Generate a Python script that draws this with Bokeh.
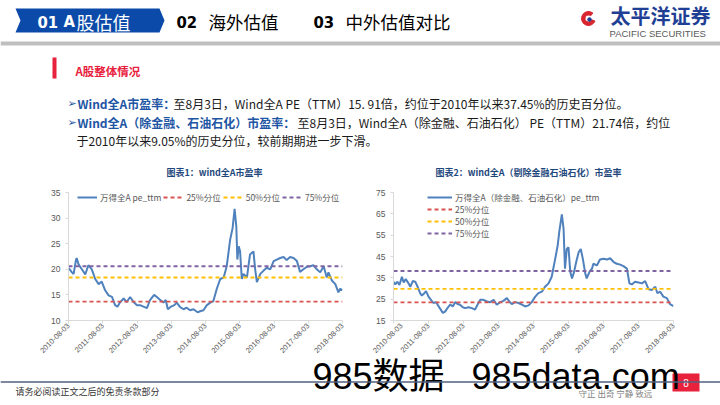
import math
from bokeh.plotting import figure
from bokeh.models import Range1d, FixedTicker, Legend, LegendItem, Span
from bokeh.layouts import column, row
from bokeh.embed import file_html
from bokeh.resources import INLINE
from bokeh.core.properties import value

# ---------------- data ----------------
year_ticks = [0, 1, 2, 3, 4, 5, 6, 7, 8]
tick_labels = ["2010-08-03", "2011-08-03", "2012-08-03", "2013-08-03", "2014-08-03",
               "2015-08-03", "2016-08-03", "2017-08-03", "2018-08-03"]
quantile_labels = ["25%分位", "50%分位", "75%分位"]

# chart 1: Wind全A PE(TTM); x = years since 2010-08-03
pe1_t = [0.00, 0.10, 0.15, 0.22, 0.24, 0.29, 0.39, 0.49, 0.58, 0.68,
         0.78, 0.88, 0.97, 1.07, 1.17, 1.27, 1.36, 1.43, 1.51, 1.61,
         1.70, 1.80, 1.90, 2.00, 2.09, 2.19, 2.29, 2.38, 2.50, 2.58,
         2.68, 2.77, 2.84, 2.90, 2.99, 3.09, 3.16, 3.26, 3.36, 3.45,
         3.55, 3.65, 3.77, 3.84, 3.94, 4.04, 4.14, 4.23, 4.33, 4.43,
         4.53, 4.62, 4.67, 4.72, 4.79, 4.85, 4.90, 4.93, 4.97, 5.01,
         5.06, 5.11, 5.21, 5.30, 5.40, 5.45, 5.50, 5.60, 5.69, 5.79,
         5.89, 5.99, 6.08, 6.18, 6.28, 6.37, 6.47, 6.57, 6.67, 6.76,
         6.86, 6.96, 7.06, 7.15, 7.25, 7.35, 7.45, 7.54, 7.59, 7.69,
         7.79, 7.88, 7.93, 8.00]
pe1_v = [20.3, 19.4, 19.1, 21.9, 22.2, 21.0, 20.0, 19.0, 20.8, 20.0,
         18.1, 17.1, 17.6, 15.9, 14.9, 14.6, 13.0, 12.7, 13.6, 14.3,
         13.6, 14.6, 13.6, 13.0, 13.0, 12.7, 12.4, 14.0, 15.0, 14.6,
         14.0, 13.5, 14.0, 12.2, 12.7, 13.0, 13.5, 12.6, 12.2, 12.5,
         12.0, 12.2, 11.6, 11.8, 12.0, 13.0, 13.5, 13.8, 16.2, 18.1,
         18.4, 20.6, 23.2, 25.8, 28.0, 31.8, 28.3, 21.9, 24.5, 23.5,
         18.1, 19.1, 18.4, 22.9, 23.5, 20.0, 17.5, 19.1, 19.7, 20.3,
         20.0, 21.6, 21.9, 22.2, 22.4, 21.8, 22.4, 22.2, 21.6, 19.5,
         20.0, 20.5, 20.6, 20.8, 20.0, 19.4, 20.6, 18.4, 19.4, 17.8,
         17.1, 15.5, 16.2, 15.91]
pe1_q = [13.7, 18.4, 20.6]

# chart 2: Wind全A(除金融、石油石化) PE(TTM)
pe2_t = [0.00, 0.05, 0.11, 0.17, 0.24, 0.29, 0.35, 0.43, 0.48, 0.55,
         0.62, 0.69, 0.76, 0.81, 0.88, 0.93, 1.00, 1.07, 1.14, 1.22,
         1.29, 1.35, 1.41, 1.48, 1.54, 1.62, 1.70, 1.76, 1.83, 1.90,
         1.98, 2.05, 2.14, 2.24, 2.33, 2.40, 2.48, 2.57, 2.67, 2.76,
         2.86, 2.95, 3.05, 3.14, 3.24, 3.31, 3.38, 3.48, 3.57, 3.67,
         3.76, 3.86, 3.95, 4.05, 4.14, 4.24, 4.33, 4.43, 4.52, 4.62,
         4.69, 4.74, 4.81, 4.86, 4.90, 4.95, 5.00, 5.05, 5.10, 5.16,
         5.22, 5.29, 5.35, 5.41, 5.48, 5.52, 5.60, 5.67, 5.71, 5.81,
         5.90, 6.00, 6.10, 6.19, 6.29, 6.38, 6.48, 6.57, 6.67, 6.74,
         6.81, 6.90, 7.00, 7.10, 7.19, 7.29, 7.38, 7.48, 7.54, 7.62,
         7.71, 7.81, 7.90, 8.00]
pe2_v = [33.2, 31.9, 33.2, 31.6, 35.5, 32.8, 34.4, 32.4, 30.8, 33.5,
         33.2, 30.8, 27.8, 26.7, 27.8, 28.8, 26.2, 24.7, 23.2, 23.6,
         21.6, 20.1, 18.5, 19.3, 20.8, 22.4, 21.6, 23.6, 22.7, 22.4,
         21.2, 20.8, 21.2, 20.8, 20.1, 22.4, 24.7, 24.7, 23.9, 23.6,
         24.7, 22.4, 23.6, 24.2, 25.5, 23.9, 22.7, 23.6, 23.2, 22.4,
         21.6, 22.1, 23.6, 26.2, 27.8, 28.5, 30.8, 32.4, 35.5, 43.9,
         50.1, 57.0, 64.7, 57.8, 39.3, 48.5, 49.3, 37.8, 34.7, 37.8,
         42.4, 47.0, 48.5, 43.9, 37.0, 34.7, 37.8, 39.3, 41.6, 40.8,
         43.6, 43.9, 43.6, 44.2, 42.4, 41.6, 41.2, 40.5, 39.3, 32.4,
         31.9, 33.2, 32.8, 32.4, 33.5, 29.6, 29.3, 30.8, 27.8, 28.5,
         26.2, 25.5, 22.7, 21.74]
pe2_q = [23.5, 29.8, 38.2]

# ---------------- styles ----------------
CJK = "Noto Sans CJK SC"
NARROW = "Liberation Sans Narrow, DejaVu Sans Condensed, Liberation Sans"
BLUE_LINE = "#4f81bd"
Q_COLORS = ["#d9534f", "#ffc000", "#8064a2"]
W = 720
TOP_H = 182
CHART_H = 176
OVERLAP = 18                      # footer panel is pulled up over the charts' bottom margin
FOOT_Y0 = TOP_H + CHART_H - OVERLAP
FOOT_H = 405 - FOOT_Y0


def txt(p, x, y, s, size, color, bold=False, font=CJK, align="left", baseline="middle"):
    p.text(x=[x], y=[y], text=[s], text_font=value(font), text_font_size=size,
           text_color=color, text_font_style="bold" if bold else "normal",
           text_align=align, text_baseline=baseline)


def blank(h, **kw):
    p = figure(width=W, height=h, x_range=Range1d(0, W), y_range=Range1d(h, 0),
               output_backend="svg", toolbar_location=None, title=None,
               x_axis_type=None, y_axis_type=None, min_border=0, **kw)
    p.outline_line_color = None
    return p


# ---------------- header / text panel ----------------
top = blank(TOP_H)
top.patch([15, 159, 164, 159, 15, 20], [8, 8, 20, 32, 32, 20], color="#0b4aa8", line_color=None)
txt(top, 37, 21, "01", "16.5px", "white", bold=True, font=NARROW)
txt(top, 63, 21, "A", "16.5px", "white", bold=True, font=NARROW)
txt(top, 76, 21, "股估值", "18px", "white")
txt(top, 176, 21, "02", "16.5px", "black", bold=True, font=NARROW)
txt(top, 208, 21, "海外估值", "17.5px", "black")
txt(top, 313, 21, "03", "16.5px", "black", bold=True, font=NARROW)
txt(top, 345, 21, "中外估值对比", "17.5px", "black")
# logo
top.annular_wedge(x=[588], y=[18], inner_radius=3.5, outer_radius=7, start_angle=0.9,
                  end_angle=5.9, color="#d9262e")
top.circle(x=[589], y=[19], radius=1.8, color="#1f3f95")
txt(top, 610, 15, "太平洋证券", "20px", "#1f3f95", bold=True)
txt(top, 609, 33, "PACIFIC SECURITIES", "9.5px", "#595959", font="Liberation Sans")
top.quad(left=[0], right=[W], top=[41], bottom=[45], color="#bfbfbf", line_color=None)
# section title
top.quad(left=[52], right=[56], top=[57], bottom=[78], color="#e8213d", line_color=None)
txt(top, 75, 70, "A股整体情况", "11.5px", "#e8213d", bold=True)
# bullets
BL = "#1e56a4"
TX = "#1a1a1a"
txt(top, 67, 103, "➢", "11px", BL, font="DejaVu Sans")
txt(top, 77, 103, "Wind全A市盈率：", "12px", BL, bold=True)
txt(top, 173, 103, "至8月3日，Wind全A PE（TTM）15. 91倍，约位于2010年以来37.45%的历史百分位。", "12px", TX)
txt(top, 67, 122, "➢", "11px", BL, font="DejaVu Sans")
txt(top, 77, 122, "Wind全A（除金融、石油石化）市盈率：", "12px", BL, bold=True)
txt(top, 297, 122, "至8月3日，Wind全A（除金融、石油石化） PE（TTM）21.74倍，约位", "12px", TX)
txt(top, 76, 140, "于2010年以来9.05%的历史分位，较前期期进一步下滑。", "12px", TX)
# chart titles
txt(top, 214, 172, "图表1：wind全A市盈率", "9px", "#1f497d", bold=True, align="center")
txt(top, 528, 172, "图表2：wind全A（剔除金融石油石化）市盈率", "9px", "#1f497d", bold=True, align="center")


# ---------------- charts ----------------
def chart(t, v, q, ylo, yhi, ystep, series_label, width, left, right, loc, orient, gw, sp):
    p = figure(width=width, height=CHART_H, x_range=Range1d(0, 8), y_range=Range1d(ylo, yhi),
               output_backend="svg", toolbar_location=None, title=None,
               min_border_left=left, min_border_right=right, min_border_top=10,
               min_border_bottom=CHART_H - 140)
    p.outline_line_color = None
    p.grid.grid_line_color = None
    r0 = p.line(t, v, line_color=BLUE_LINE, line_width=2)
    rq = []
    for val, col in zip(q, Q_COLORS):
        rq.append(p.line([t[0], t[-1]], [val, val], line_color=col, line_dash="4 3", line_width=1.8))
    p.xaxis.ticker = FixedTicker(ticks=year_ticks)
    p.xaxis.major_label_overrides = {k: lab for k, lab in zip(year_ticks, tick_labels)}
    p.xaxis.major_label_orientation = math.pi / 4
    p.yaxis.ticker = FixedTicker(ticks=list(range(ylo, yhi + 1, ystep)))
    for ax in (p.xaxis[0], p.yaxis[0]):
        ax.axis_line_color = "#d9d9d9"
        ax.major_tick_line_color = "#d9d9d9"
        ax.major_tick_out = 3
        ax.major_tick_in = 0
        ax.minor_tick_line_color = None
        ax.major_label_text_color = "#595959"
        ax.major_label_text_font = "Liberation Sans"
    p.xaxis.major_label_text_font_size = "7.5px"
    p.xaxis.major_label_standoff = 1
    p.yaxis.major_label_text_font_size = "8.5px"
    p.yaxis.major_label_standoff = 5
    items = [LegendItem(label=series_label, renderers=[r0])]
    items += [LegendItem(label=lab, renderers=[r]) for lab, r in zip(quantile_labels, rq)]
    leg = Legend(items=items, location=loc, orientation=orient, glyph_width=gw, glyph_height=10,
                 label_height=10, label_standoff=3, spacing=sp,
                 padding=0, margin=0, background_fill_alpha=0, border_line_color=None,
                 label_text_font_size="8.5px", label_text_color="#595959", label_text_font=CJK)
    p.add_layout(leg)
    return p


c1 = chart(pe1_t, pe1_v, pe1_q, 10, 35, 5, "万得全A pe_ttm", 372, 68, 30, (9, 117), "horizontal", 20, 2)
c2 = chart(pe2_t, pe2_v, pe2_q, 15, 75, 10, "万得全A（除金融、石油石化）pe_ttm", 348, 21, 47, (34, 81), "vertical", 25, 0)

# ---------------- footer (transparent, overlapping the charts' bottom margin) ----------------
foot = blank(FOOT_H, margin=(-OVERLAP, 0, 0, 0))
foot.background_fill_alpha = 0
foot.border_fill_alpha = 0
foot.add_layout(Span(location=381.5 - FOOT_Y0, dimension="width", line_color="#50607f", line_width=1.5))
txt(foot, 15, 391 - FOOT_Y0, "请务必阅读正文之后的免责条款部分", "9px", "#333333")
txt(foot, 578, 392 - FOOT_Y0, "守正 出奇 宁静 致远", "8.5px", "#7f7f7f")
foot.quad(left=[672], right=[699], top=[373 - FOOT_Y0], bottom=[391 - FOOT_Y0], color="#e8213d", line_color=None)
txt(foot, 685.5, 382 - FOOT_Y0, "8", "10px", "white", font="Liberation Sans", align="center")
txt(foot, 312, 376 - FOOT_Y0, "985数据", "36px", "black", font="Liberation Sans, Noto Sans CJK SC")
txt(foot, 471, 376 - FOOT_Y0, "985data.com", "36px", "black", font="Liberation Sans")

layout = column(top, row(c1, c2), foot)
open("out.html", "w").write(file_html(layout, INLINE))
